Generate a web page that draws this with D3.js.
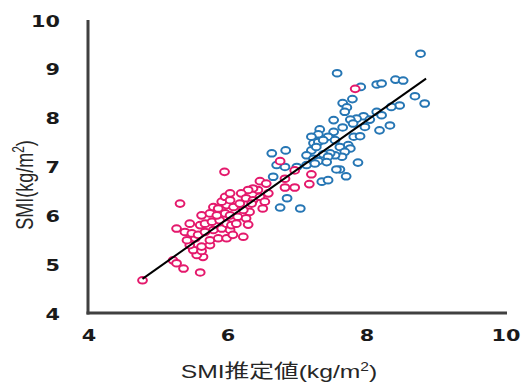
<!DOCTYPE html>
<html lang="ja">
	<head>
		<meta charset="utf-8">
		<title> SMI scatter </title>
		<script type="text/javascript" src="https://cdn.jsdelivr.net/npm/d3@7"></script>
		<style>
			body { margin: 0; background: #fff; }
		</style>
	</head>
	<body>
		<script type="text/javascript">
			// estimated (x, y) pairs
			var pinkPoints = [
				[4.77,4.67],[5.21,5.08],[5.26,5.02],[5.36,4.91],[5.60,4.83],[5.64,5.15],[5.55,5.19],[5.50,5.29],
				[5.62,5.27],[5.45,5.39],[5.62,5.36],[5.74,5.39],[5.41,5.49],[5.53,5.53],[5.74,5.49],[5.86,5.53],
				[5.98,5.53],[5.38,5.66],[5.26,5.73],[5.48,5.63],[5.57,5.60],[5.67,5.66],[5.79,5.70],[5.91,5.73],
				[6.03,5.70],[5.45,5.83],[5.60,5.80],[5.67,5.83],[5.77,5.87],[5.88,5.90],[5.98,5.83],[6.05,5.80],
				[5.62,6.00],[5.74,6.04],[5.84,6.00],[5.96,6.04],[6.03,6.00],[5.79,6.17],[5.86,6.14],[5.98,6.21],
				[6.08,6.17],[5.91,6.28],[5.96,6.38],[6.03,6.31],[5.31,6.24],[5.95,6.89],
				[6.46,6.70],[6.55,6.65],[6.43,6.52],[6.36,6.55],[6.29,6.52],[6.19,6.45],[6.26,6.35],[6.36,6.31],
				[6.46,6.38],[6.58,6.45],[6.53,6.28],[6.50,6.14],[6.31,6.07],[6.22,6.11],[6.14,5.97],[6.26,5.94],
				[6.12,5.83],[6.29,5.81],[6.22,5.56],[6.07,5.60],[6.03,6.45],[6.17,6.24],[6.34,6.24],
				[6.96,6.92],[7.20,6.84],[7.17,6.64],[6.82,6.57],[6.96,6.57],[6.82,6.75],[6.75,7.11],[7.83,8.59]
			];
			var bluePoints = [
				[8.77,9.31],[7.57,8.91],[7.91,8.63],[8.14,8.68],[8.21,8.70],[8.41,8.78],[8.52,8.76],[8.69,8.44],
				[8.83,8.29],[8.47,8.25],[8.35,8.22],[7.79,8.38],[7.65,8.30],[7.71,8.21],[7.68,8.12],[8.14,8.12],
				[8.21,8.05],[7.95,8.03],[7.85,7.98],[8.04,7.96],[7.76,7.96],[7.52,7.95],[8.33,7.84],[8.18,7.74],
				[7.97,7.81],[7.65,7.80],[7.80,7.88],[7.32,7.76],[7.30,7.66],[7.52,7.71],[7.44,7.61],[7.54,7.54],
				[7.20,7.61],[7.23,7.48],[7.30,7.50],[7.37,7.54],[7.81,7.61],[7.90,7.62],[7.73,7.44],[7.61,7.40],
				[7.76,7.37],[7.68,7.30],[7.64,7.20],[7.54,7.23],[7.47,7.27],[7.37,7.25],[7.44,7.20],[7.20,7.33],
				[7.27,7.40],[7.13,7.23],[7.23,7.16],[7.30,7.11],[7.42,7.09],[6.63,7.27],[6.83,7.33],[6.70,7.03],
				[6.82,6.99],[6.99,6.99],[7.13,7.03],[7.25,7.06],[7.87,7.08],[7.61,6.94],[7.70,6.80],[6.65,6.79],
				[7.35,6.69],[7.44,6.72],[6.85,6.35],[6.75,6.16],[7.04,6.14],[7.56,6.94]
			];
			var fitLine = [[4.77,4.70],[8.85,8.80]];
			var xTicks = [4, 6, 8, 10];
			var yTicks = [4, 5, 6, 7, 8, 9, 10];

			var w = 523;
			var h = 383;
			var stretch = 1.3;   // the picture is wider than tall, text and rings too

			var x = d3.scaleLinear().domain([4, 10]).range([89, 506]);
			var y = d3.scaleLinear().domain([4, 10]).range([313, 20]);

			var svg = d3.select("body")
				.append("svg")
				.attr("width", w)
				.attr("height", h);

			// axis lines, no tick marks
			svg.append("line")
				.attr("x1", x(4) - 1).attr("x2", x(4) - 1)
				.attr("y1", y(10)).attr("y2", y(4) + 1.5)
				.attr("stroke", "#404040").attr("stroke-width", 3);
			svg.append("line")
				.attr("x1", x(4) - 2.5).attr("x2", x(10) + 1)
				.attr("y1", y(4)).attr("y2", y(4))
				.attr("stroke", "#404040").attr("stroke-width", 3);

			svg.selectAll("text.xt")
				.data(xTicks)
				.enter()
				.append("text")
				.attr("class", "xt")
				.attr("transform", function(d){ return "translate(" + x(d) + ",341) scale(" + stretch + ",1)"; })
				.attr("text-anchor", "middle")
				.attr("font-family", "DejaVu Sans")
				.attr("font-weight", "bold")
				.attr("font-size", "16px")
				.attr("fill", "#1a1a1a")
				.text(function(d){ return d; });

			svg.selectAll("text.yt")
				.data(yTicks)
				.enter()
				.append("text")
				.attr("class", "yt")
				.attr("transform", function(d){ return "translate(60," + (y(d) + 6.5) + ") scale(" + stretch + ",1)"; })
				.attr("text-anchor", "end")
				.attr("font-family", "DejaVu Sans")
				.attr("font-weight", "bold")
				.attr("font-size", "16px")
				.attr("fill", "#1a1a1a")
				.text(function(d){ return d; });

			// axis titles
			var xt = svg.append("text")
				.attr("transform", "translate(279,378) scale(" + stretch + ",1)")
				.attr("text-anchor", "middle")
				.attr("font-family", "Liberation Sans, Noto Sans CJK JP")
				.attr("font-size", "19px")
				.attr("fill", "#262626");
			xt.append("tspan").text("SMI推定値(kg/m");
			xt.append("tspan").attr("dy", -7).attr("font-size", "12px").text("2");
			xt.append("tspan").attr("dy", 7).text(")");

			var yt = svg.append("text")
				.attr("transform", "translate(33,185) scale(" + stretch + ",1) rotate(-90)")
				.attr("text-anchor", "middle")
				.attr("font-family", "Liberation Sans")
				.attr("font-size", "18px")
				.attr("fill", "#262626");
			yt.append("tspan").text("SMI(kg/m");
			yt.append("tspan").attr("dy", -7).attr("font-size", "12px").text("2");
			yt.append("tspan").attr("dy", 7).text(")");

			// rings
			svg.append("g")
				.selectAll("ellipse")
				.data(bluePoints)
				.enter()
				.append("ellipse")
				.attr("cx", function(d){ return x(d[0]); })
				.attr("cy", function(d){ return y(d[1]); })
				.attr("rx", 4.4)
				.attr("ry", 3.3)
				.attr("fill", "#fff")
				.attr("stroke", "#2676b4")
				.attr("stroke-width", 2);

			svg.append("g")
				.selectAll("ellipse")
				.data(pinkPoints)
				.enter()
				.append("ellipse")
				.attr("cx", function(d){ return x(d[0]); })
				.attr("cy", function(d){ return y(d[1]); })
				.attr("rx", 4.4)
				.attr("ry", 3.3)
				.attr("fill", "#fff")
				.attr("stroke", "#e4196c")
				.attr("stroke-width", 2);

			svg.append("line")
				.datum(fitLine)
				.attr("x1", function(d){ return x(d[0][0]); })
				.attr("y1", function(d){ return y(d[0][1]); })
				.attr("x2", function(d){ return x(d[1][0]); })
				.attr("y2", function(d){ return y(d[1][1]); })
				.attr("stroke", "#000")
				.attr("stroke-width", 2);
		</script>
	</body>
</html>
